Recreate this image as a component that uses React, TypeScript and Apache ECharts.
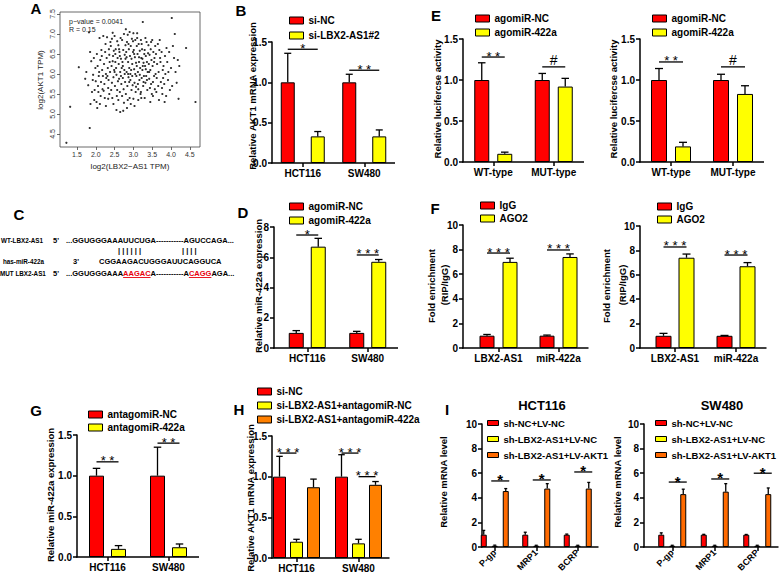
import React, { useEffect, useRef } from 'react';
import * as echarts from 'echarts';

const FF = '"Liberation Sans", Arial, Helvetica, sans-serif';
const RED = '#FF0000';
const YEL = '#FFFF00';
const ORA = '#FF8000';
const ORA2 = '#FF6A00';

// ---------- Panel A (scatter) ----------
const aXTicks = [1.5, 2.0, 2.5, 3.0, 3.5, 4.0, 4.5];
const aYTicks = [4.5, 5.0, 5.5, 6.0, 6.5, 7.0, 7.5];
const aPoints: [number, number][] = [
  [1.22, 4.28], [1.32, 5.18], [1.55, 6.17], [1.72, 5.88], [1.75, 6.05],
  [1.82, 7.04], [1.85, 6.55], [1.84, 4.65], [1.86, 5.25], [1.88, 6.32], [1.8, 5.72],
  [1.9, 5.55], [1.92, 5.85], [1.95, 6.4], [1.93, 5.98], [1.97, 5.6], [1.96, 5.35], [1.99, 6.15],
  [2.0, 5.82], [2.02, 5.3], [2.03, 6.5], [2.05, 6.2], [2.06, 5.7], [2.08, 5.95], [2.04, 5.15], [2.09, 6.05], [2.07, 5.55],
  [2.1, 6.9], [2.12, 6.35], [2.13, 5.45], [2.15, 6.6], [2.14, 5.8], [2.17, 6.1], [2.18, 5.62], [2.16, 6.45], [2.19, 5.95], [2.11, 5.25],
  [2.2, 6.95], [2.22, 6.25], [2.23, 5.75], [2.25, 6.55], [2.24, 5.4], [2.27, 6.0], [2.26, 6.75], [2.28, 5.9], [2.29, 6.4], [2.21, 5.58], [2.27, 5.2],
  [2.3, 6.92], [2.32, 6.15], [2.33, 5.65], [2.35, 6.62], [2.34, 5.85], [2.37, 6.3], [2.36, 5.5], [2.38, 6.05], [2.39, 6.8], [2.31, 5.95], [2.36, 6.48], [2.33, 5.38],
  [2.4, 6.7], [2.42, 6.2], [2.43, 5.78], [2.45, 7.03], [2.44, 5.4], [2.46, 6.45], [2.47, 5.92], [2.48, 6.58], [2.49, 6.1], [2.41, 5.6], [2.45, 6.32], [2.47, 5.25], [2.43, 6.88],
  [2.5, 6.95], [2.52, 6.3], [2.51, 5.7], [2.53, 6.62], [2.55, 5.98], [2.54, 6.15], [2.56, 5.45], [2.57, 6.82], [2.58, 6.4], [2.59, 5.82], [2.5, 6.05], [2.55, 5.1], [2.52, 6.5], [2.57, 5.6],
  [2.6, 6.72], [2.61, 6.25], [2.62, 5.88], [2.63, 6.55], [2.64, 5.55], [2.65, 6.05], [2.66, 6.9], [2.67, 6.38], [2.68, 5.75], [2.69, 6.15], [2.6, 5.35], [2.62, 6.62], [2.65, 5.05], [2.67, 5.95], [2.64, 6.45],
  [2.7, 6.85], [2.71, 6.3], [2.72, 5.9], [2.73, 6.6], [2.74, 5.62], [2.75, 7.0], [2.76, 6.1], [2.77, 6.48], [2.78, 5.8], [2.79, 6.72], [2.7, 5.45], [2.72, 6.2], [2.75, 5.28], [2.77, 6.0], [2.79, 6.38], [2.73, 5.08],
  [2.8, 7.12], [2.81, 6.55], [2.82, 6.05], [2.83, 6.8], [2.84, 5.7], [2.85, 6.98], [2.86, 6.3], [2.87, 5.92], [2.88, 6.62], [2.89, 6.15], [2.8, 5.5], [2.82, 6.42], [2.85, 5.35], [2.87, 6.75], [2.89, 5.8], [2.83, 5.15], [2.86, 6.0],
  [2.9, 7.05], [2.91, 6.45], [2.92, 5.85], [2.93, 6.7], [2.94, 6.1], [2.95, 5.6], [2.96, 6.88], [2.97, 6.25], [2.98, 5.72], [2.99, 6.55], [2.9, 5.4], [2.92, 6.0], [2.95, 6.38], [2.97, 5.95], [2.93, 5.25], [2.99, 6.82],
  [3.0, 7.02], [3.01, 6.6], [3.02, 6.12], [3.03, 5.78], [3.04, 6.42], [3.05, 6.85], [3.06, 5.55], [3.07, 6.28], [3.08, 5.95], [3.09, 6.7], [3.0, 5.38], [3.02, 6.5], [3.05, 6.0], [3.07, 5.68], [3.03, 5.2], [3.09, 6.2],
  [3.1, 7.02], [3.11, 6.5], [3.12, 6.05], [3.13, 5.62], [3.14, 6.75], [3.15, 6.3], [3.16, 5.85], [3.17, 6.58], [3.18, 6.15], [3.19, 5.5], [3.1, 6.9], [3.12, 5.75], [3.15, 6.42], [3.17, 5.98], [3.13, 5.35],
  [3.2, 6.85], [3.21, 6.4], [3.22, 5.9], [3.23, 6.62], [3.24, 6.1], [3.25, 7.3], [3.26, 5.7], [3.27, 6.28], [3.28, 5.95], [3.29, 6.5], [3.2, 5.55], [3.22, 6.75], [3.25, 6.2], [3.27, 5.8], [3.24, 6.38], [3.21, 5.4],
  [3.3, 6.6], [3.31, 6.2], [3.32, 5.78], [3.33, 6.45], [3.34, 5.95], [3.35, 6.8], [3.36, 6.3], [3.37, 5.6], [3.38, 6.05], [3.39, 6.52], [3.3, 5.4], [3.33, 6.12], [3.36, 5.85], [3.32, 6.9],
  [3.4, 6.72], [3.41, 6.25], [3.42, 5.88], [3.43, 6.48], [3.44, 5.65], [3.45, 6.1], [3.46, 6.62], [3.47, 5.75], [3.48, 6.35], [3.49, 5.5], [3.42, 6.05], [3.45, 5.3], [3.47, 6.8],
  [3.5, 6.85], [3.51, 6.2], [3.52, 5.8], [3.53, 6.55], [3.55, 5.95], [3.56, 6.4], [3.57, 5.62], [3.58, 6.7], [3.59, 6.0], [3.52, 5.45], [3.55, 6.3],
  [3.6, 6.5], [3.62, 5.9], [3.63, 6.25], [3.65, 6.75], [3.66, 5.7], [3.67, 6.05], [3.68, 5.35], [3.69, 6.6], [3.61, 5.55],
  [3.7, 6.85], [3.72, 6.3], [3.73, 5.8], [3.75, 6.55], [3.76, 5.65], [3.78, 6.1], [3.79, 5.9], [3.71, 6.4], [3.77, 5.5],
  [3.8, 6.2], [3.82, 5.75], [3.84, 6.45], [3.85, 6.0], [3.87, 5.45], [3.88, 6.65], [3.83, 5.3],
  [3.9, 6.3], [3.92, 5.85], [3.95, 6.55], [3.97, 5.6], [3.93, 6.05],
  [4.02, 7.4], [4.0, 6.15], [4.03, 5.7], [4.05, 6.7], [4.08, 6.4],
  [4.1, 7.0], [4.12, 6.05], [4.15, 5.78], [4.18, 6.35],
  [4.2, 5.38], [4.22, 6.2], [4.4, 6.65], [4.65, 5.3],
];

// ---------- Panel B ----------
const bCats = ['HCT116', 'SW480'];
const bSiNC = [1.0, 1.0];
const bSiNCSd = [0.36, 0.1];
const bSiLbx = [0.33, 0.33];
const bSiLbxSd = [0.06, 0.08];
const bSigY = [1.41, 1.15];
const bSigText = ['*', '* *'];

// ---------- Panel E ----------
const eCats = ['WT-type', 'MUT-type'];
const e1NC = [1.0, 1.0];
const e1NCSd = [0.21, 0.08];
const e1Ago = [0.1, 0.92];
const e1AgoSd = [0.02, 0.1];
const e1SigY = [1.28, 1.16];
const e2NC = [1.0, 1.0];
const e2NCSd = [0.14, 0.07];
const e2Ago = [0.19, 0.83];
const e2AgoSd = [0.05, 0.1];
const e2SigY = [1.22, 1.16];
const eSigText = ['* *', '#'];

// ---------- Panel D ----------
const dCats = ['HCT116', 'SW480'];
const dNC = [1.0, 1.0];
const dNCSd = [0.15, 0.1];
const dAgo = [6.7, 5.7];
const dAgoSd = [0.55, 0.15];
const dSigY = [7.47, 6.15];
const dSigText = ['*', '* * *'];

// ---------- Panel F ----------
const fCats = ['LBX2-AS1', 'miR-422a'];
const f1IgG = [1.0, 1.0];
const f1IgGSd = [0.1, 0.05];
const f1Ago2 = [7.0, 7.4];
const f1Ago2Sd = [0.3, 0.25];
const f1SigY = [7.72, 7.97];
const f2IgG = [1.0, 1.0];
const f2IgGSd = [0.2, 0.03];
const f2Ago2 = [7.4, 6.7];
const f2Ago2Sd = [0.3, 0.3];
const f2SigY = [8.28, 7.62];
const fSigText = ['* * *', '* * *'];

// ---------- Panel G ----------
const gCats = ['HCT116', 'SW480'];
const gNC = [1.0, 1.0];
const gNCSd = [0.09, 0.35];
const gAnta = [0.1, 0.12];
const gAntaSd = [0.04, 0.04];
const gSigY = [1.17, 1.4];
const gSigText = ['* *', '* *'];

// ---------- Panel H ----------
const hCats = ['HCT116', 'SW480'];
const hNC = [1.0, 1.0];
const hNCSd = [0.25, 0.27];
const hAntaNC = [0.2, 0.18];
const hAntaNCSd = [0.03, 0.05];
const hAnta422 = [0.87, 0.9];
const hAnta422Sd = [0.1, 0.04];
const hSigCat = [0, 1, 1];
const hSigFrom = [0, 0, 1];
const hSigTo = [1, 1, 2];
const hSigY = [1.29, 1.29, 1.0];

// ---------- Panel I ----------
const iCats = ['P-gp', 'MRP1', 'BCRP'];
const i1ShNC = [1.0, 1.0, 1.0];
const i1ShNCSd = [0.35, 0.2, 0.05];
const i1ShLbx = [0.1, 0.1, 0.1];
const i1ShLbxSd = [0.05, 0.04, 0.04];
const i1Akt = [4.55, 4.75, 4.75];
const i1AktSd = [0.2, 0.4, 0.5];
const i1SigY = [5.37, 5.45, 6.1];
const i2ShNC = [1.0, 1.0, 1.0];
const i2ShNCSd = [0.15, 0.03, 0.02];
const i2ShLbx = [0.1, 0.1, 0.1];
const i2ShLbxSd = [0.04, 0.04, 0.04];
const i2Akt = [4.3, 4.5, 4.3];
const i2AktSd = [0.4, 0.65, 0.5];
const i2SigY = [5.28, 5.53, 6.0];

type S = { name: string; color: string; v: number[]; sd: number[] };
type Sig = { cat: number; a: number; b: number; y: number; t: string };
type P = {
  cats: string[]; series: S[]; sig: Sig[];
  yMax: number; yInt: number; dec: number;
  left: number; top: number; width: number; bottom: number; axisX: number;
  bw: number; gap: number; rotate?: number; ext?: number; star?: string; hash?: string;
  xLabelSize?: number; yLabelSize?: number;
};

function buildPanel(p: P, gi: number, opt: any) {
  const black = '#000';
  opt.grid.push({ left: p.left, top: p.top, width: p.width, height: p.bottom - p.top });
  opt.xAxis.push({
    type: 'category', gridIndex: gi, data: p.cats,
    axisLine: { show: false },
    axisTick: { show: true, alignWithLabel: true, length: 4, lineStyle: { color: black, width: 1.5 } },
    axisLabel: {
      color: black, fontFamily: FF, fontWeight: 'bold', fontSize: p.xLabelSize || 10,
      margin: p.rotate ? 4 : 5, rotate: p.rotate || 0, interval: 0,
    },
    splitLine: { show: false },
  });
  opt.yAxis.push({
    type: 'value', gridIndex: gi, min: 0, max: p.yMax, interval: p.yInt,
    offset: p.left - p.axisX,
    axisLine: { show: true, lineStyle: { color: black, width: 1.5 } },
    axisTick: { show: true, length: 4, lineStyle: { color: black, width: 1.5 } },
    axisLabel: {
      color: black, fontFamily: FF, fontWeight: 'bold', fontSize: p.yLabelSize || 10, margin: 5,
      formatter: (v: number) => v.toFixed(p.dec),
    },
    splitLine: { show: false },
  });
  const n = p.series.length;
  const pitch = p.bw + p.gap;
  p.series.forEach((s) => {
    opt.series.push({
      type: 'bar', name: s.name, xAxisIndex: gi, yAxisIndex: gi, data: s.v,
      barWidth: p.bw, barGap: (p.gap / p.bw) * 100 + '%',
      itemStyle: { color: s.color, borderColor: black, borderWidth: 1 },
      z: 2,
    });
  });
  const err: number[][] = [];
  p.series.forEach((s, si) => s.v.forEach((v, ci) => err.push([ci, si, v, s.sd[ci]])));
  opt.series.push({
    type: 'custom', xAxisIndex: gi, yAxisIndex: gi, data: err, encode: { x: 0, y: 2 }, z: 3, silent: true,
    renderItem: (_params: any, api: any) => {
      const ci = api.value(0), si = api.value(1), v = api.value(2), sd = api.value(3);
      const base = api.coord([ci, v]);
      const top = api.coord([ci, v + sd]);
      const x = base[0] + (si - (n - 1) / 2) * pitch;
      const cap = Math.max(3, p.bw * 0.5);
      return {
        type: 'group', children: [
          { type: 'line', shape: { x1: x, y1: base[1], x2: x, y2: top[1] }, style: { stroke: black, lineWidth: 1.3 } },
          { type: 'line', shape: { x1: x - cap / 2, y1: top[1], x2: x + cap / 2, y2: top[1] }, style: { stroke: black, lineWidth: 1.3 } },
        ],
      };
    },
  });
  const sigData = p.sig.map((s, k) => [s.cat, s.a, s.b, s.y, k]);
  opt.series.push({
    type: 'custom', xAxisIndex: gi, yAxisIndex: gi, data: sigData, encode: { x: 0, y: 3 }, z: 3, silent: true,
    renderItem: (_params: any, api: any) => {
      const ci = api.value(0), a = api.value(1), b = api.value(2), y = api.value(3), k = api.value(4);
      const c = api.coord([ci, y]);
      const ext = p.ext || 0;
      const xa = c[0] + (a - (n - 1) / 2) * pitch - ext;
      const xb = c[0] + (b - (n - 1) / 2) * pitch + ext;
      const t = p.sig[k].t;
      const isHash = t === '#';
      return {
        type: 'group', children: [
          { type: 'line', shape: { x1: xa, y1: c[1], x2: xb, y2: c[1] }, style: { stroke: black, lineWidth: 1.3 } },
          {
            type: 'text',
            style: {
              text: t, x: (xa + xb) / 2, y: c[1] - (isHash ? 7 : 1),
              fill: black, font: isHash ? (p.hash || '14px ' + FF) : (p.star || '13px ' + FF),
              align: 'center', verticalAlign: 'middle', textAlign: 'center', textVerticalAlign: 'middle',
            },
          },
        ],
      };
    },
  });
  opt.series.push({
    type: 'custom', xAxisIndex: gi, yAxisIndex: gi, data: [[0, 0]], encode: { x: 0, y: 1 }, z: 4, silent: true,
    renderItem: (params: any) => {
      const cs = params.coordSys;
      const yb = cs.y + cs.height;
      return { type: 'line', shape: { x1: p.axisX - 0.75, y1: yb, x2: cs.x + cs.width, y2: yb }, style: { stroke: black, lineWidth: 1.5 } };
    },
  });
}

const ctx2d = typeof document !== 'undefined' ? document.createElement('canvas').getContext('2d') : null;
function tw(text: string, font: string) {
  if (!ctx2d) return text.length * 5;
  ctx2d.font = font;
  return ctx2d.measureText(text).width;
}

function legend(names: string[], left: number, top: number, gap: number, iw = 14, ih = 7, fs = 10) {
  return {
    orient: 'vertical', left, top, itemWidth: iw, itemHeight: ih, itemGap: gap, icon: 'rect',
    selectedMode: false, padding: 0,
    data: names.map((nm) => ({ name: nm, itemStyle: { borderColor: '#000', borderWidth: 1 } })),
    textStyle: { color: '#000', fontFamily: FF, fontWeight: 'bold', fontSize: fs, padding: [0, 0, 0, 0] },
  };
}

function txt(text: string, x: number, y: number, font: string, opts: any = {}) {
  return {
    type: 'text', x, y, rotation: opts.rotation || 0, silent: true,
    style: {
      text, x: 0, y: 0, font, fill: opts.fill || '#000',
      align: opts.align || 'left', verticalAlign: opts.va || 'middle',
      textAlign: opts.align || 'left', textVerticalAlign: opts.va || 'middle',
    },
  };
}

function buildOption() {
  const opt: any = {
    animation: false, backgroundColor: '#fff',
    grid: [], xAxis: [], yAxis: [], series: [], legend: [], graphic: [],
  };

  // Panel A
  opt.grid.push({ left: 60, top: 12, width: 140, height: 135, show: true, borderColor: '#444', borderWidth: 0.8, backgroundColor: 'transparent' });
  opt.xAxis.push({
    type: 'value', gridIndex: 0, min: 1.05, max: 4.77,
    axisLine: { show: false },
    axisTick: { show: true, customValues: aXTicks, length: 3, lineStyle: { color: '#444', width: 0.8 } },
    axisLabel: { customValues: aXTicks, formatter: (v: number) => v.toFixed(1), fontSize: 7, color: '#333', margin: 4, fontFamily: FF },
    splitLine: { show: false },
  });
  opt.yAxis.push({
    type: 'value', gridIndex: 0, min: 4.175, max: 7.55,
    axisLine: { show: false },
    axisTick: { show: true, customValues: aYTicks, length: 3, lineStyle: { color: '#444', width: 0.8 } },
    axisLabel: { customValues: aYTicks, formatter: (v: number) => v.toFixed(1), fontSize: 7, color: '#333', margin: 4, rotate: 90, fontFamily: FF },
    splitLine: { show: false },
  });
  opt.series.push({ type: 'scatter', xAxisIndex: 0, yAxisIndex: 0, data: aPoints, symbolSize: 2.2, itemStyle: { color: '#000' }, silent: true });

  const panels: P[] = [
    { // B
      cats: bCats, series: [
        { name: 'si-NC', color: RED, v: bSiNC, sd: bSiNCSd },
        { name: 'si-LBX2-AS1#2', color: YEL, v: bSiLbx, sd: bSiLbxSd },
      ], sig: bSigY.map((y, k) => ({ cat: k, a: 0, b: 1, y, t: bSigText[k] })),
      yMax: 1.5, yInt: 0.5, dec: 1, left: 272, top: 42, bottom: 163, width: 123, axisX: 272, bw: 14, gap: 16,
    },
    { // E left
      cats: eCats, series: [
        { name: 'agomiR-NC', color: RED, v: e1NC, sd: e1NCSd },
        { name: 'agomiR-422a', color: YEL, v: e1Ago, sd: e1AgoSd },
      ], sig: e1SigY.map((y, k) => ({ cat: k, a: 0, b: 1, y, t: eSigText[k] })),
      yMax: 1.5, yInt: 0.5, dec: 1, left: 463, top: 39, bottom: 162, width: 121, axisX: 463, bw: 15, gap: 8,
    },
    { // E right
      cats: eCats, series: [
        { name: 'agomiR-NC', color: RED, v: e2NC, sd: e2NCSd },
        { name: 'agomiR-422a', color: YEL, v: e2Ago, sd: e2AgoSd },
      ], sig: e2SigY.map((y, k) => ({ cat: k, a: 0, b: 1, y, t: eSigText[k] })),
      yMax: 1.5, yInt: 0.5, dec: 1, left: 640, top: 39, bottom: 162, width: 124, axisX: 640, bw: 16, gap: 8,
    },
    { // D
      cats: dCats, series: [
        { name: 'agomiR-NC', color: RED, v: dNC, sd: dNCSd },
        { name: 'agomiR-422a', color: YEL, v: dAgo, sd: dAgoSd },
      ], sig: dSigY.map((y, k) => ({ cat: k, a: 0, b: 1, y, t: dSigText[k] })),
      yMax: 8, yInt: 2, dec: 0, left: 277, top: 227, bottom: 348, width: 121, axisX: 274, bw: 15, gap: 7,
    },
    { // F left
      cats: fCats, series: [
        { name: 'IgG', color: RED, v: f1IgG, sd: f1IgGSd },
        { name: 'AGO2', color: YEL, v: f1Ago2, sd: f1Ago2Sd },
      ], sig: f1SigY.map((y, k) => ({ cat: k, a: 0, b: 1, y, t: fSigText[k] })),
      yMax: 10, yInt: 2, dec: 0, left: 468.5, top: 225, bottom: 348, width: 120, axisX: 463, bw: 15, gap: 8,
    },
    { // F right
      cats: fCats, series: [
        { name: 'IgG', color: RED, v: f2IgG, sd: f2IgGSd },
        { name: 'AGO2', color: YEL, v: f2Ago2, sd: f2Ago2Sd },
      ], sig: f2SigY.map((y, k) => ({ cat: k, a: 0, b: 1, y, t: fSigText[k] })),
      yMax: 10, yInt: 2, dec: 0, left: 644.5, top: 226, bottom: 348, width: 122, axisX: 640, bw: 16, gap: 7,
    },
    { // G
      cats: gCats, series: [
        { name: 'antagomiR-NC', color: RED, v: gNC, sd: gNCSd },
        { name: 'antagomiR-422a', color: YEL, v: gAnta, sd: gAntaSd },
      ], sig: gSigY.map((y, k) => ({ cat: k, a: 0, b: 1, y, t: gSigText[k] })),
      yMax: 1.5, yInt: 0.5, dec: 1, left: 77, top: 435, bottom: 557, width: 122, axisX: 77, bw: 15, gap: 7,
    },
    { // H
      cats: hCats, series: [
        { name: 'si-NC', color: RED, v: hNC, sd: hNCSd },
        { name: 'si-LBX2-AS1+antagomiR-NC', color: YEL, v: hAntaNC, sd: hAntaNCSd },
        { name: 'si-LBX2-AS1+antagomiR-422a', color: ORA, v: hAnta422, sd: hAnta422Sd },
      ], sig: hSigY.map((y, k) => ({ cat: hSigCat[k], a: hSigFrom[k], b: hSigTo[k], y, t: '* * *' })),
      yMax: 1.5, yInt: 0.5, dec: 1, left: 265.5, top: 436, bottom: 558, width: 124, axisX: 272, bw: 13, gap: 4,
    },
    { // I HCT116
      cats: iCats, series: [
        { name: 'sh-NC+LV-NC', color: RED, v: i1ShNC, sd: i1ShNCSd },
        { name: 'sh-LBX2-AS1+LV-NC', color: YEL, v: i1ShLbx, sd: i1ShLbxSd },
        { name: 'sh-LBX2-AS1+LV-AKT1', color: ORA2, v: i1Akt, sd: i1AktSd },
      ], sig: i1SigY.map((y, k) => ({ cat: k, a: 1, b: 2, y, t: '*' })),
      yMax: 10, yInt: 2, dec: 0, left: 474, top: 424, bottom: 547, width: 124.5, axisX: 482, bw: 6, gap: 5,
      rotate: 45, ext: 3.5, star: 'bold 15px ' + FF, xLabelSize: 9,
    },
    { // I SW480
      cats: iCats, series: [
        { name: 'sh-NC+LV-NC', color: RED, v: i2ShNC, sd: i2ShNCSd },
        { name: 'sh-LBX2-AS1+LV-NC', color: YEL, v: i2ShLbx, sd: i2ShLbxSd },
        { name: 'sh-LBX2-AS1+LV-AKT1', color: ORA2, v: i2Akt, sd: i2AktSd },
      ], sig: i2SigY.map((y, k) => ({ cat: k, a: 1, b: 2, y, t: '*' })),
      yMax: 10, yInt: 2, dec: 0, left: 651, top: 424, bottom: 547, width: 127.5, axisX: 644, bw: 6, gap: 5,
      rotate: 45, ext: 3.5, star: 'bold 15px ' + FF, xLabelSize: 9,
    },
  ];
  panels.forEach((p, i) => buildPanel(p, i + 1, opt));

  // Legends
  opt.legend.push(legend(['si-NC', 'si-LBX2-AS1#2'], 289, 15.5, 5));
  opt.legend.push(legend(['agomiR-NC', 'agomiR-422a'], 475, 13.5, 4));
  opt.legend.push(legend(['agomiR-NC', 'agomiR-422a'], 652, 13.5, 4));
  opt.legend.push(legend(['agomiR-NC', 'agomiR-422a'], 289, 201.5, 4));
  opt.legend.push(legend(['IgG', 'AGO2'], 480, 200.5, 3));
  opt.legend.push(legend(['IgG', 'AGO2'], 657, 201.5, 3));
  opt.legend.push(legend(['antagomiR-NC', 'antagomiR-422a'], 88, 409.5, 3));
  opt.legend.push(legend(['si-NC', 'si-LBX2-AS1+antagomiR-NC', 'si-LBX2-AS1+antagomiR-422a'], 257, 386.5, 4));
  opt.legend.push(legend(['sh-NC+LV-NC', 'sh-LBX2-AS1+LV-NC', 'sh-LBX2-AS1+LV-AKT1'], 487, 418, 6, 11, 5, 9.5));
  opt.legend.push(legend(['sh-NC+LV-NC', 'sh-LBX2-AS1+LV-NC', 'sh-LBX2-AS1+LV-AKT1'], 655, 418, 6, 11, 5, 9.5));

  const g: any[] = opt.graphic;
  const L = 'bold 15px ' + FF;
  g.push(txt('A', 36, 8, L, { align: 'center' }));
  g.push(txt('B', 241, 10, L, { align: 'center' }));
  g.push(txt('E', 436, 15, L, { align: 'center' }));
  g.push(txt('C', 19, 214, L, { align: 'center' }));
  g.push(txt('D', 243, 212, L, { align: 'center' }));
  g.push(txt('F', 435, 208, L, { align: 'center' }));
  g.push(txt('G', 36, 410, L, { align: 'center' }));
  g.push(txt('H', 239, 409, L, { align: 'center' }));
  g.push(txt('I', 447, 409, L, { align: 'center' }));

  // Panel A texts
  const sm = '7px ' + FF;
  g.push(txt('p\u2212value = 0.0041', 69, 21, sm, { fill: '#222' }));
  g.push(txt('R = 0.15', 69, 29, sm, { fill: '#222' }));
  g.push(txt('log2(LBX2\u2212AS1 TPM)', 130, 166, '8px ' + FF, { align: 'center', fill: '#222' }));
  g.push(txt('log2(AKT1 TPM)', 40, 80, '8px ' + FF, { align: 'center', rotation: Math.PI / 2, fill: '#222' }));

  // Y-axis titles
  const YT = 'bold 9.5px ' + FF;
  const rot = { align: 'center', rotation: Math.PI / 2 };
  g.push(txt('Relative AKT1 mRNA expression', 252, 96, YT, rot));
  g.push(txt('Relative lucifercse activity', 437, 99, YT, rot));
  g.push(txt('Relative lucifercse activity', 613, 99, YT, rot));
  g.push(txt('Relative miR-422a expression', 258, 286, YT, rot));
  g.push(txt('Fold enrichment', 431, 286, YT, rot));
  g.push(txt('(RIP/IgG)', 444, 285, YT, rot));
  g.push(txt('Fold enrichment', 606, 286, YT, rot));
  g.push(txt('(RIP/IgG)', 622, 285, YT, rot));
  g.push(txt('Relative miR-422a expression', 50, 495, YT, rot));
  g.push(txt('Relative AKT1 mRNA expression', 250, 498, YT, rot));
  g.push(txt('Relative mRNA level', 443, 482, YT, rot));
  g.push(txt('Relative mRNA level', 617, 482, YT, rot));
  g.push(txt('HCT116', 542, 405, 'bold 13px ' + FF, { align: 'center' }));
  g.push(txt('SW480', 722, 405, 'bold 13px ' + FF, { align: 'center' }));

  // Panel C
  const lab = 'bold 6.3px ' + FF;
  const seq = 'bold 7.5px ' + FF;
  g.push(txt('WT-LBX2-AS1', 1, 240, lab));
  g.push(txt("5'", 53, 240, seq));
  g.push(txt('...GGUGGGAAAUUCUGA-----------AGUCCAGA...', 66, 240, seq));
  g.push(txt('| | | | | |', 118, 250, seq));
  g.push(txt('| | | |', 182, 250, seq));
  g.push(txt('has-miR-422a', 3, 261, lab));
  g.push(txt("3'", 73, 261, seq));
  g.push(txt('CGGAAGACUGGGAUUCAGGUCA', 99, 261, seq));
  g.push(txt('MUT LBX2-AS1', 0, 273, lab));
  g.push(txt("5'", 53, 273, seq));
  const segs: [string, boolean][] = [['...GGUGGGAAA', false], ['AAGAC', true], ['A-----------A', false], ['CAGG', true], ['AGA...', false]];
  let cx = 66;
  segs.forEach(([s, red]) => {
    const w = tw(s, seq);
    g.push(txt(s, cx, 273, seq, { fill: red ? '#E8000B' : '#000' }));
    if (red) g.push({ type: 'line', silent: true, shape: { x1: cx, y1: 277.5, x2: cx + w, y2: 277.5 }, style: { stroke: '#E8000B', lineWidth: 0.9 } });
    cx += w;
  });

  return opt;
}

export default function App() {
  const ref = useRef<HTMLDivElement>(null);
  useEffect(() => {
    if (!ref.current) return;
    const chart = echarts.init(ref.current, null, { renderer: 'svg' });
    chart.setOption(buildOption());
    return () => chart.dispose();
  }, []);
  return <div ref={ref} style={{ position: 'absolute', left: 0, top: 0, width: 784, height: 581, background: '#fff' }} />;
}
